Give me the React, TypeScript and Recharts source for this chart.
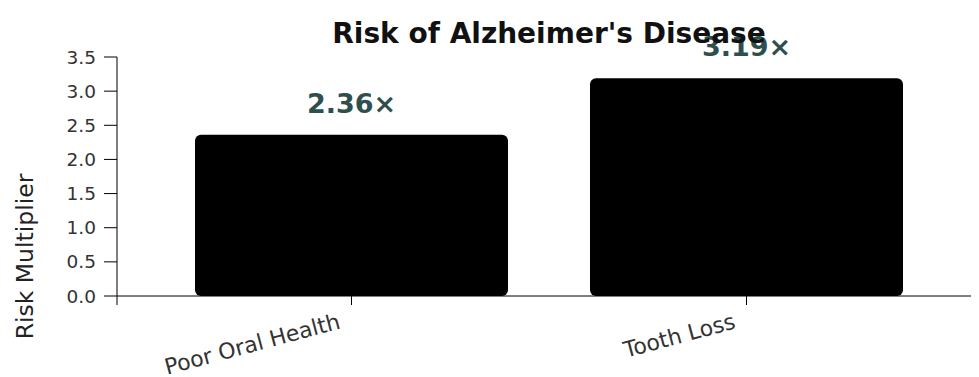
import React from 'react';
import { BarChart, Bar, XAxis, YAxis, LabelList } from 'recharts';

const categories = ['Poor Oral Health', 'Tooth Loss'];
const riskValues = [2.36, 3.19];
const yTicks = [0, 0.5, 1, 1.5, 2, 2.5, 3, 3.5];
const title = "Risk of Alzheimer's Disease";
const yLabel = 'Risk Multiplier';

const data = categories.map((c, i) => ({ name: c, value: riskValues[i] }));

const W = 971;
const H = 369;
const MARGIN_TOP = 49;
const Y_AXIS_W = 109;
const X_AXIS_H = 81;
const FONT = 'DejaVu Sans, sans-serif';

export default function App() {
  const plotBottom = H - X_AXIS_H;
  return (
    <div style={{ position: 'relative', width: W, height: H }}>
      <BarChart
        width={W}
        height={H}
        data={data}
        margin={{ top: MARGIN_TOP, right: 0, bottom: 0, left: 0 }}
        barCategoryGap={41}
      >
        <XAxis
          dataKey="name"
          height={X_AXIS_H}
          padding={{ left: 37, right: 35 }}
          stroke="#000"
          tickSize={9}
          tickMargin={8}
          interval={0}
          angle={-15}
          textAnchor="end"
          dx={-14}
          tick={{ fill: '#333', fontSize: 22, fontFamily: FONT }}
        />
        <YAxis
          width={Y_AXIS_W}
          domain={[0, 3.5]}
          ticks={yTicks}
          tickFormatter={(v: number) => v.toFixed(1)}
          stroke="#000"
          tickSize={13}
          tickMargin={8}
          tick={{ fill: '#333', fontSize: 18.5, fontFamily: FONT }}
          label={{
            value: yLabel,
            angle: -90,
            position: 'center',
            dx: -38,
            dy: 80,
            style: { fill: '#222', fontSize: 23.5, fontFamily: FONT, textAnchor: 'middle' },
          }}
        />
        <Bar dataKey="value" fill="#000" radius={6} isAnimationActive={false}>
          <LabelList
            dataKey="value"
            position="top"
            offset={22}
            formatter={(v: number) => `${v.toFixed(2)}×`}
            style={{ fill: '#2f4f4f', fontSize: 27, fontWeight: 'bold', fontFamily: FONT }}
          />
        </Bar>
      </BarChart>
      <svg width={W} height={H} style={{ position: 'absolute', left: 0, top: 0, pointerEvents: 'none' }}>
        <text x={541} y={35} textAnchor="middle" fontSize={28} fontWeight="bold" fontFamily={FONT} fill="#111">
          {title}
        </text>
        <line x1={Y_AXIS_W} x2={Y_AXIS_W} y1={plotBottom} y2={plotBottom + 9} stroke="#000" />
      </svg>
    </div>
  );
}
